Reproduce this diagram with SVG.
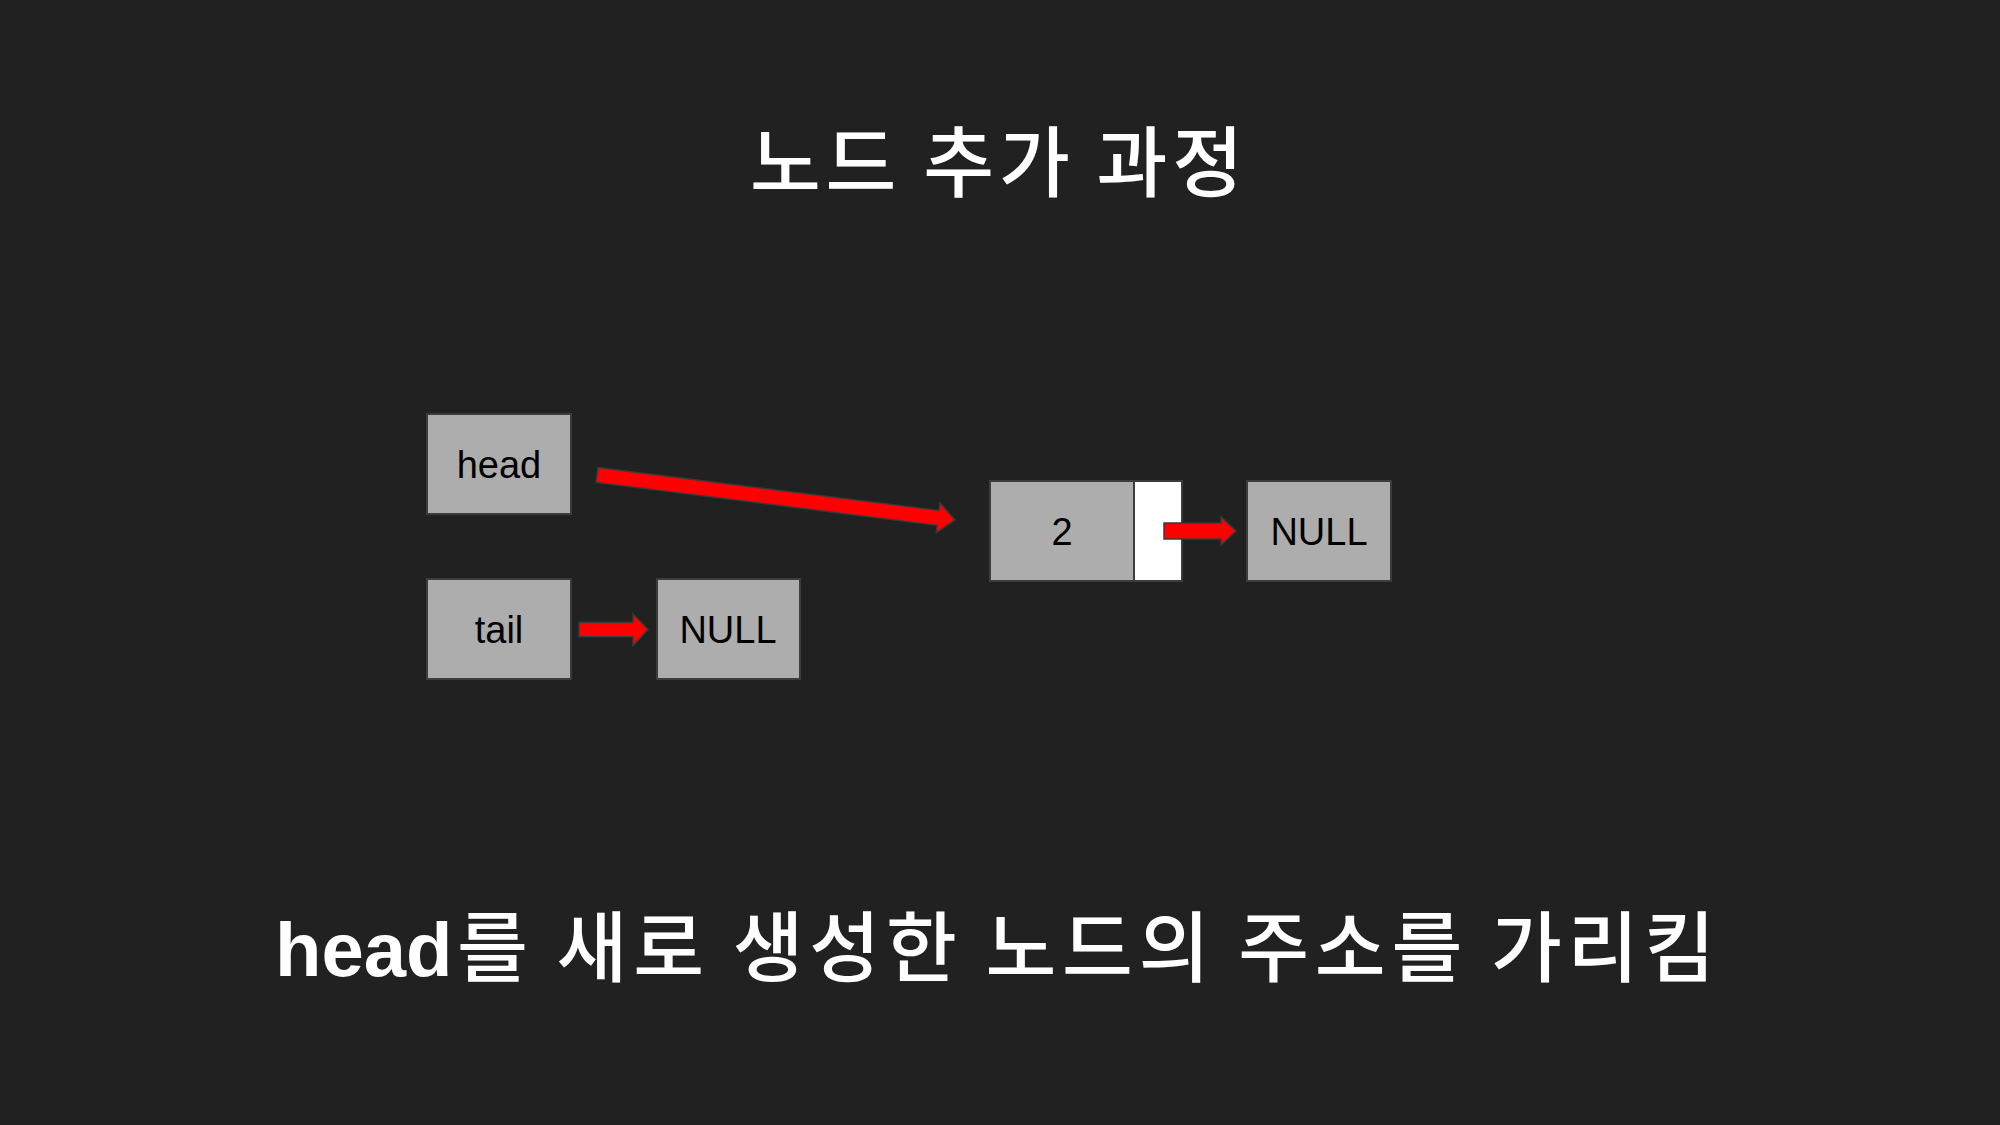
<svg xmlns="http://www.w3.org/2000/svg" width="2000" height="1125" viewBox="0 0 2000 1125">
<style>
.box{fill:#adadad;stroke:#3c3c3c;stroke-width:2}
.ptr{fill:#ffffff;stroke:#3c3c3c;stroke-width:2}
.lbl{font-family:"Liberation Sans",Arial,sans-serif;font-size:38px;fill:#000000;text-anchor:middle}
.arrow{fill:#ff0000;stroke:#3a3a3a;stroke-width:1.5;stroke-linejoin:miter}
.title{font-family:"Noto Sans CJK KR","Noto Sans",sans-serif;font-size:77px;font-weight:500;fill:#ffffff}
.cap{font-family:"Noto Sans CJK KR","Noto Sans",sans-serif;font-size:77px;font-weight:500;fill:#ffffff}
.capl{font-family:"Liberation Sans",Arial,sans-serif;font-size:76px;font-weight:bold;fill:#ffffff}
</style>
<rect width="2000" height="1125" fill="#212121"/>
<text class="title" x="750" y="191" textLength="493" lengthAdjust="spacing">노드 추가 과정</text>
<g id="head">
<rect class="box" x="427" y="414" width="144" height="100"/>
<text class="lbl" x="499" y="478">head</text>
</g>
<g id="tail">
<rect class="box" x="427" y="579" width="144" height="100"/>
<text class="lbl" x="499" y="643">tail</text>
</g>
<g id="tail-null">
<rect class="box" x="657" y="579" width="143" height="100"/>
<text class="lbl" x="728" y="643">NULL</text>
</g>
<g id="node2">
<rect class="box" x="990" y="481" width="144" height="100"/>
<rect class="ptr" x="1134" y="481" width="48" height="100"/>
<text class="lbl" x="1062" y="545">2</text>
</g>
<g id="node-null">
<rect class="box" x="1247" y="481" width="144" height="100"/>
<text class="lbl" x="1319" y="545">NULL</text>
</g>
<g id="connectors">
<polygon class="arrow" transform="translate(597,475) rotate(7.16)" points="0,-7.5 343.8,-7.5 343.8,-15 360.8,0 343.8,15 343.8,7.5 0,7.5"/>
<polygon class="arrow" points="579,622.3 633,622.3 633,614 648,629.5 633,645.7 633,636.7 579,636.7"/>
<polygon class="arrow" points="1164,523 1221,523 1221,517 1236,531 1221,545 1221,539 1164,539"/>
</g>
<text class="capl" x="275" y="976">head</text>
<text class="cap" x="457" y="976" textLength="1258" lengthAdjust="spacing">를 새로 생성한 노드의 주소를 가리킴</text>
</svg>
